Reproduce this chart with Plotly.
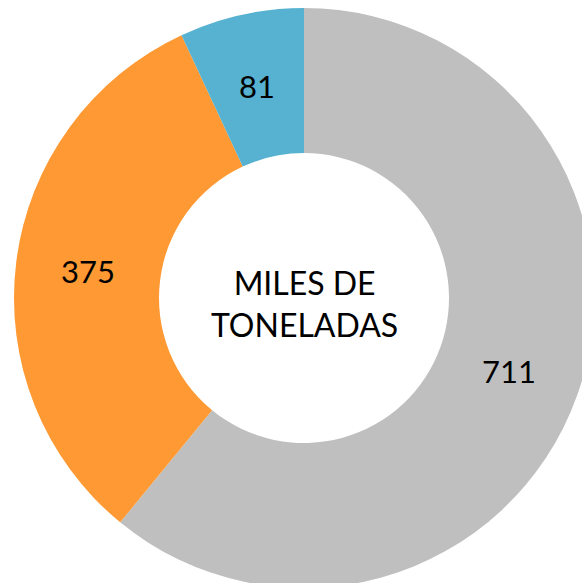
import math
import plotly.graph_objects as go

labels = ["Gris", "Naranja", "Azul"]
values = [711, 375, 81]
colors = ["#BFBFBF", "#FF9933", "#56B2D0"]
center_text = "MILES DE<br>TONELADAS"
HOLE = 0.5

fig = go.Figure(go.Pie(
    labels=labels,
    values=values,
    hole=HOLE,
    sort=False,
    direction="clockwise",
    rotation=0,
    marker=dict(colors=colors, line=dict(width=0)),
    textinfo="none",
    showlegend=False,
    hoverinfo="label+value",
))

# value labels at mid-angle / mid-radius of each slice
total = sum(values)
r_mid = 0.5 * (1 + HOLE) / 2
cum = 0
for v in values:
    ang = (cum + v / 2) / total * 2 * math.pi
    cum += v
    fig.add_annotation(
        text=str(v), x=0.5 + r_mid * math.sin(ang), y=0.5 + r_mid * math.cos(ang),
        xref="paper", yref="paper", xanchor="center", yanchor="middle",
        showarrow=False,
        font=dict(family="Lato", size=31, color="#000000"),
    )

fig.add_annotation(
    text=center_text, x=0.5, y=0.5, xref="paper", yref="paper",
    xanchor="center", yanchor="middle",
    showarrow=False, font=dict(family="Lato", size=32, color="#000000"),
    align="center", yshift=-5,
)

fig.update_layout(
    width=600, height=600,
    margin=dict(l=14, r=6, t=8, b=12),
    paper_bgcolor="white",
    plot_bgcolor="white",
)

fig.write_html(
    "out.html",
    config={"displayModeBar": False},
    post_script="document.body.style.margin='0';document.body.style.overflow='hidden';",
)
